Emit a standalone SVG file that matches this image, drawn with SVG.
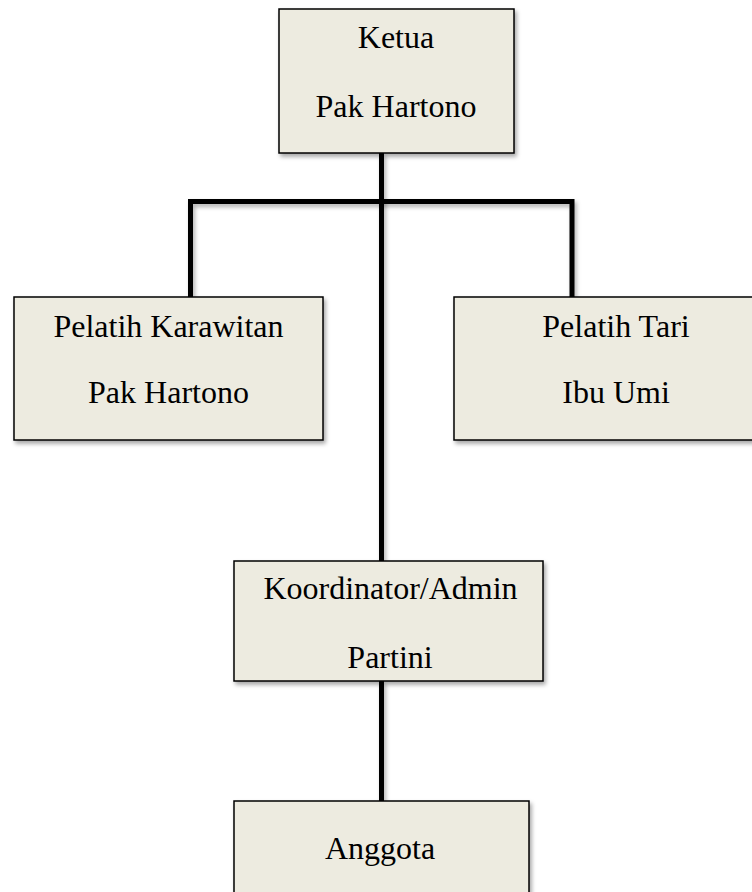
<svg xmlns="http://www.w3.org/2000/svg" width="752" height="892" viewBox="0 0 752 892">
<style>
.box{fill:#EDEBE0;stroke:#000;stroke-width:1.5;filter:url(#sh)}
.t{font-family:"Liberation Serif","Times New Roman",serif;font-size:32px;fill:#000;text-anchor:middle}
.ln{fill:none;stroke:#000;stroke-width:5;stroke-linejoin:miter;filter:url(#shl)}
</style>
<defs>
<filter id="sh" x="-10%" y="-10%" width="130%" height="130%">
<feDropShadow dx="2" dy="3" stdDeviation="2" flood-color="#000" flood-opacity="0.35"/>
</filter>
<filter id="shl" filterUnits="userSpaceOnUse" x="0" y="0" width="752" height="892">
<feDropShadow dx="2" dy="3" stdDeviation="2" flood-color="#000" flood-opacity="0.3"/>
</filter>
</defs>
<rect width="752" height="892" fill="#fff"/>
<g id="connectors">
<path class="ln" d="M190.5 297 V201.5 H572 V297"/>
<path class="ln" d="M381.5 153 V561"/>
<path class="ln" d="M381.5 681 V801"/>
</g>
<g id="ketua">
<rect class="box" x="279" y="9" width="235" height="144"/>
<text class="t" x="396" y="48">Ketua</text>
<text class="t" x="396" y="117">Pak Hartono</text>
</g>
<g id="karawitan">
<rect class="box" x="14" y="297" width="309" height="143"/>
<text class="t" x="168.5" y="337">Pelatih Karawitan</text>
<text class="t" x="168.5" y="403">Pak Hartono</text>
</g>
<g id="tari">
<rect class="box" x="454" y="297" width="320" height="143"/>
<text class="t" x="616" y="337">Pelatih Tari</text>
<text class="t" x="616" y="403">Ibu Umi</text>
</g>
<g id="koordinator">
<rect class="box" x="234" y="561" width="309" height="120"/>
<text class="t" x="390.5" y="599">Koordinator/Admin</text>
<text class="t" x="390" y="668">Partini</text>
</g>
<g id="anggota">
<rect class="box" x="234" y="801" width="295" height="120"/>
<text class="t" x="380" y="859">Anggota</text>
</g>
</svg>
